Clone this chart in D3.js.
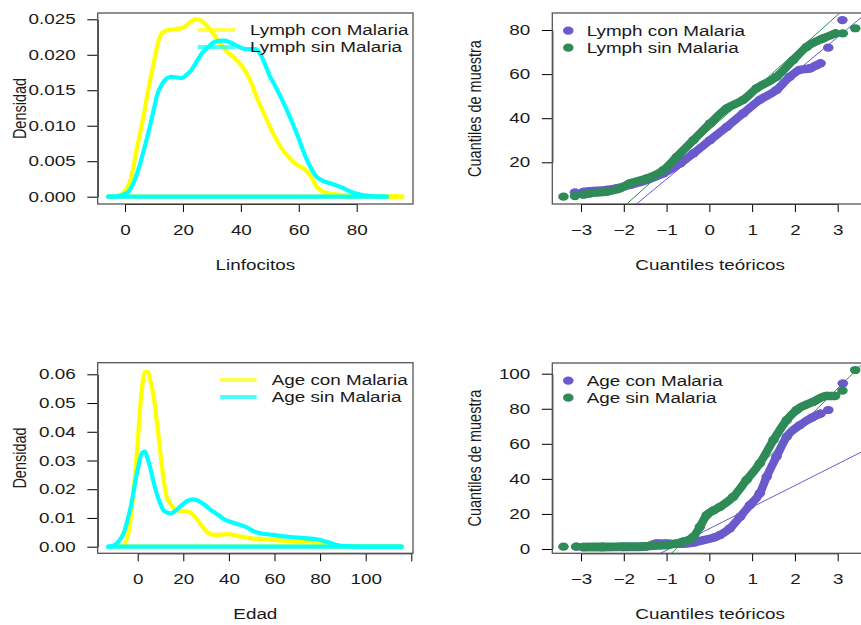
<!DOCTYPE html>
<html>
<head>
<meta charset="utf-8">
<script src="https://cdn.jsdelivr.net/npm/d3@7"></script>
<style>
  body { margin: 0; background: #fff; }
  text { font-family: "Liberation Sans", Arial, Helvetica, sans-serif; fill: #1a1a1a; }
</style>
</head>
<body>
<svg id="chart" width="861" height="625"></svg>
<script>
// ---------- Density estimates: Linfocitos ----------
const lymphConX = [-5.8, -2, 0, 2, 4, 6, 8, 10, 12, 14, 17, 20, 22, 24.2, 26, 28, 30.5, 33, 35, 38, 40, 43, 46, 48, 50, 53, 56, 59, 61.6, 64, 66.2, 68, 71, 78, 86, 95.7];
const lymphConY = [0, 0.0002, 0.0008, 0.0025, 0.0066, 0.0105, 0.015, 0.019, 0.0225, 0.0234, 0.0236, 0.0238, 0.0244, 0.025, 0.0249, 0.0242, 0.023, 0.0215, 0.0205, 0.0195, 0.0186, 0.0166, 0.0135, 0.0117, 0.0099, 0.0075, 0.0058, 0.0046, 0.004, 0.003, 0.0014, 0.0008, 0.0004, 0.0002, 0.0001, 0];
const lymphSinX = [-5.8, -2, 0, 1.2, 3, 4.6, 6, 8, 10, 11, 13, 14.5, 16, 18, 19.6, 21, 23, 25, 26.5, 29, 31, 33, 34.5, 36, 38, 40, 41.5, 44.9, 46.6, 48, 50, 52, 55.9, 57.5, 59.3, 62.8, 64, 66.2, 68, 70.8, 73, 75.4, 78, 80, 84.6, 90.4];
const lymphSinY = [0, 0.0001, 0.0004, 0.0007, 0.002, 0.0038, 0.0058, 0.0089, 0.0124, 0.0142, 0.016, 0.0167, 0.0169, 0.0168, 0.0167, 0.0171, 0.0179, 0.0192, 0.0202, 0.0212, 0.0218, 0.022, 0.022, 0.0218, 0.0214, 0.021, 0.0208, 0.0208, 0.0202, 0.019, 0.017, 0.0155, 0.0122, 0.0107, 0.0089, 0.0052, 0.0042, 0.0028, 0.0023, 0.0019, 0.0016, 0.0012, 0.0007, 0.0004, 0.0001, 0];

// ---------- Density estimates: Edad ----------
const ageConX = [-8.5, -6, -4.1, -2.5, -1.2, 0, 1, 2, 3.2, 4.6, 5.5, 6.8, 9, 11.2, 12.5, 14.2, 16, 17.8, 22.2, 25.1, 27, 29.5, 31.5, 33.9, 37, 39.7, 44.1, 50, 56.6, 63, 71.2, 80, 85.7, 92.5, 100, 115.8];
const ageConY = [0, 0.0008, 0.0047, 0.014, 0.0244, 0.036, 0.0476, 0.056, 0.0608, 0.0608, 0.058, 0.0534, 0.0395, 0.0244, 0.018, 0.0151, 0.0132, 0.0125, 0.0122, 0.0104, 0.0085, 0.0058, 0.0045, 0.0041, 0.0042, 0.0044, 0.0037, 0.0029, 0.0025, 0.0021, 0.0017, 0.0012, 0.0004, 0.0001, 0, 0];
const ageSinX = [-12.9, -10.5, -8.5, -6, -4.1, -2.5, -1.2, 0.3, 1.8, 3.2, 4.2, 5.4, 6.8, 8.3, 9.8, 11.2, 13, 14.6, 17, 19.3, 22, 24.4, 27, 29.5, 32, 35.4, 38, 41.2, 44, 47.1, 51.4, 55, 59.5, 64, 68.2, 73, 78.5, 82.9, 87.3, 93, 100, 115.8];
const ageSinY = [0, 0.0004, 0.0017, 0.005, 0.0104, 0.016, 0.022, 0.028, 0.0325, 0.0331, 0.031, 0.0278, 0.023, 0.0186, 0.0152, 0.0128, 0.0118, 0.0116, 0.0128, 0.0145, 0.016, 0.0165, 0.0158, 0.0145, 0.0128, 0.011, 0.0095, 0.0085, 0.0078, 0.007, 0.0052, 0.0045, 0.0041, 0.0036, 0.0033, 0.003, 0.0026, 0.0017, 0.0006, 0.0001, 0, 0];

// ---------- Normal Q-Q: Linfocitos (dense run + separate tail points) ----------
const qqLymphConQ = [-2.95, -2.79, -2.4, -2.17, -1.85, -1.46, -1.07, -0.68, -0.37, 0.02, 0.41, 0.79, 1.18, 1.57, 1.88, 2.11, 2.35, 2.5, 2.6];
const qqLymphConV = [6.6, 6.9, 7.5, 8.2, 9.8, 12, 15, 19.5, 24.1, 30.1, 36.1, 42.2, 48.3, 52.8, 58.8, 61.9, 62.6, 64, 64.9];
const qqLymphConTailQ = [-3.14, 2.78, 3.11];
const qqLymphConTailV = [6.4, 72, 84.5];
const qqLymphSinQ = [-2.95, -2.79, -2.4, -2.09, -1.85, -1.46, -1.07, -0.76, -0.37, 0.02, 0.41, 0.79, 1.11, 1.57, 1.96, 2.28, 2.66, 2.95];
const qqLymphSinV = [5.4, 5.9, 6.7, 8.2, 10.5, 12.7, 16.5, 22.5, 30.1, 37.7, 44.5, 48.3, 53.6, 58.8, 66.4, 72.4, 76.2, 78.5];
const qqLymphSinTailQ = [-3.41, -3.14, 3.12, 3.41];
const qqLymphSinTailV = [4.4, 4.7, 78.5, 80.8];

// ---------- Normal Q-Q: Edad ----------
const qqAgeConQ = [-2.95, -2.5, -2, -1.5, -1.23, -1.0, -0.8, -0.61, -0.4, -0.14, 0.1, 0.25, 0.48, 0.72, 0.95, 1.18, 1.34, 1.57, 1.81, 2.12, 2.4, 2.6];
const qqAgeConV = [1, 1, 1.1, 1.3, 3.2, 3.1, 2.9, 2.9, 3.5, 5.1, 6.5, 8, 11.8, 18.4, 25.1, 31.8, 41.2, 52.7, 64.1, 70.7, 75, 77.2];
const qqAgeConTailQ = [-3.11, 2.78, 3.12];
const qqAgeConTailV = [1.3, 79.3, 94.5];
const qqAgeSinQ = [-2.95, -2.5, -2, -1.5, -1.0, -0.8, -0.61, -0.45, -0.37, -0.22, -0.06, 0.1, 0.25, 0.56, 0.87, 1.18, 1.5, 1.81, 2.04, 2.43, 2.74, 2.94];
const qqAgeSinV = [1.2, 1.3, 1.4, 1.6, 2.2, 3, 4.2, 5.5, 7, 12.7, 19.4, 22, 24.1, 29.8, 39.4, 48.9, 62.2, 73.6, 79.3, 84, 87.3, 87.3];
const qqAgeSinTailQ = [-3.41, -3.11, 3.11, 3.41];
const qqAgeSinTailV = [1.3, 1.3, 90.3, 102.1];

// Reference lines through the quartiles: [intercept, slope]
const qqLineLymphCon = [28.5, 16.1];
const qqLineLymphSin = [34.7, 17.4];
const qqLineAgeCon = [11.6, 12.3];
const qqLineAgeSin = [19, 24.2];

// ---------- Tick values and labels ----------
const lymphTicks = [0, 20, 40, 60, 80];
const lymphTickLabels = ["0", "20", "40", "60", "80"];
const ageTicks = [0, 20, 40, 60, 80, 100, 120];
const ageTickLabels = ["0", "20", "40", "60", "80", "100", ""];
const densLymphTicks = [0, 0.005, 0.01, 0.015, 0.02, 0.025];
const densLymphTickLabels = ["0.000", "0.005", "0.010", "0.015", "0.020", "0.025"];
const densAgeTicks = [0, 0.01, 0.02, 0.03, 0.04, 0.05, 0.06];
const densAgeTickLabels = ["0.00", "0.01", "0.02", "0.03", "0.04", "0.05", "0.06"];
const normTicks = [-3, -2, -1, 0, 1, 2, 3];
const normTickLabels = ["\u22123", "\u22122", "\u22121", "0", "1", "2", "3"];
const qqLymphTicks = [20, 40, 60, 80];
const qqLymphTickLabels = ["20", "40", "60", "80"];
const qqAgeTicks = [0, 20, 40, 60, 80, 100];
const qqAgeTickLabels = ["0", "20", "40", "60", "80", "100"];

// ---------- Text ----------
const lymphLegend = ["Lymph con Malaria", "Lymph sin Malaria"];
const ageLegend = ["Age con Malaria", "Age sin Malaria"];

// ---------- Styling ----------
const YELLOW = "#ffff00", CYAN = "#00ffff";
const PURPLE = "#6a5acd", GREEN = "#2e8b57";
const SX = 1.3;          // horizontal text stretch
const FS = 14.5;         // font size
const PT_RX = 5.3, PT_RY = 4.1;  // Q-Q point size

const svg = d3.select("#chart");
let clipCount = 0;

function stretchedText(g, x, y, s, anchor, vertical) {
  return g.append("text")
    .attr("transform", vertical
      ? `translate(${x},${y}) rotate(-90) scale(1,${SX})`
      : `translate(${x},${y}) scale(${SX},1)`)
    .attr("text-anchor", anchor)
    .attr("font-size", FS)
    .text(s);
}

function frame(box, x, y, xTicks, xLabels, yTicks, yLabels, xTitle, yTitle) {
  const g = svg.append("g");
  // axes
  const ax = g.append("g").attr("transform", `translate(0,${box.y1})`)
    .call(d3.axisBottom(x).tickValues(xTicks).tickFormat((d, i) => xLabels[i])
      .tickSizeInner(8).tickSizeOuter(0).tickPadding(12.5));
  const ay = g.append("g").attr("transform", `translate(${box.x0},0)`)
    .call(d3.axisLeft(y).tickValues(yTicks).tickFormat((d, i) => yLabels[i])
      .tickSizeInner(10.4).tickSizeOuter(0).tickPadding(11.6));
  [ax, ay].forEach(a => {
    a.attr("font-size", FS).attr("font-family", null);
    a.selectAll("path, line").attr("stroke", "#000").attr("stroke-width", 1);
  });
  ax.selectAll("text").attr("transform", `scale(${SX},1)`);
  ay.selectAll("text").attr("x", -22 / SX).attr("transform", `scale(${SX},1)`);
  // box
  g.append("rect").attr("x", box.x0).attr("y", box.y0)
    .attr("width", box.x1 - box.x0).attr("height", box.y1 - box.y0)
    .attr("fill", "none").attr("stroke", "#555").attr("stroke-width", 1.3);
  // titles
  stretchedText(g, (box.x0 + box.x1) / 2, box.y1 + 65.5, xTitle, "middle", false);
  stretchedText(g, box.x0 - 78, (box.y0 + box.y1) / 2, yTitle, "middle", true).attr("dy", "0.36em");
  // clip
  const id = "clip" + (clipCount++);
  svg.append("clipPath").attr("id", id).append("rect")
    .attr("x", box.x0).attr("y", box.y0)
    .attr("width", box.x1 - box.x0).attr("height", box.y1 - box.y0);
  return svg.append("g").attr("clip-path", `url(#${id})`);
}

function densityPanel(box, x, y, series, xTicks, xLabels, yTicks, yLabels, xTitle, legend, legendPos) {
  const plot = frame(box, x, y, xTicks, xLabels, yTicks, yLabels, xTitle, "Densidad");
  const line = d3.line().curve(d3.curveMonotoneX);
  series.forEach(s => {
    const pts = s.xs.map((v, i) => [x(v), y(s.ys[i])]);
    plot.append("path").attr("d", line(pts))
      .attr("fill", "none").attr("stroke", s.color).attr("stroke-width", 4.2)
      .attr("stroke-linejoin", "round").attr("stroke-linecap", "round");
    plot.append("line")
      .attr("x1", x(s.xs[0])).attr("x2", x(s.xs[s.xs.length - 1]))
      .attr("y1", y(0)).attr("y2", y(0))
      .attr("stroke", s.color).attr("stroke-width", 4.2).attr("stroke-linecap", "round");
  });
  const lg = svg.append("g");
  series.forEach((s, i) => {
    const ly = legendPos.y + i * 17;
    lg.append("line").attr("x1", legendPos.x0).attr("x2", legendPos.x1)
      .attr("y1", ly).attr("y2", ly)
      .attr("stroke", s.color).attr("stroke-width", 4).attr("opacity", 0.7);
    stretchedText(lg, legendPos.tx, ly, legend[i], "start", false).attr("dy", "0.36em");
  });
}

function qqPanel(box, x, y, series, yTicks, yLabels, legend, legendPos) {
  const plot = frame(box, x, y, normTicks, normTickLabels, yTicks, yLabels, "Cuantiles te\u00f3ricos", "Cuantiles de muestra");
  const line = d3.line().curve(d3.curveMonotoneX);
  const [qa, qb] = [-5, 5];
  series.forEach(s => {
    const pts = s.q.map((q, i) => [x(q), y(s.v[i])]);
    plot.append("path").attr("d", line(pts))
      .attr("fill", "none").attr("stroke", s.color).attr("stroke-width", 8.4)
      .attr("stroke-linejoin", "round").attr("stroke-linecap", "round");
    const all = s.q.map((q, i) => [q, s.v[i]]).concat(s.tq.map((q, i) => [q, s.tv[i]]));
    plot.selectAll(null).data(all).enter().append("ellipse")
      .attr("cx", d => x(d[0])).attr("cy", d => y(d[1]))
      .attr("rx", PT_RX).attr("ry", PT_RY).attr("fill", s.color);
    plot.append("line")
      .attr("x1", x(qa)).attr("y1", y(s.ref[0] + s.ref[1] * qa))
      .attr("x2", x(qb)).attr("y2", y(s.ref[0] + s.ref[1] * qb))
      .attr("stroke", s.color).attr("stroke-width", 1);
  });
  const lg = svg.append("g");
  series.forEach((s, i) => {
    const ly = legendPos.y + i * 17;
    lg.append("ellipse").attr("cx", legendPos.px).attr("cy", ly)
      .attr("rx", PT_RX).attr("ry", PT_RY).attr("fill", s.color);
    stretchedText(lg, legendPos.tx, ly, legend[i], "start", false).attr("dy", "0.36em");
  });
}

// ---------- Panel 1: Linfocitos density ----------
{
  const box = { x0: 97.7, x1: 413, y0: 13, y1: 204 };
  const x = d3.scaleLinear().domain([0, 80]).range([125, 356.7]);
  const y = d3.scaleLinear().domain([0, 0.025]).range([196.7, 19.3]);
  densityPanel(box, x, y,
    [{ xs: lymphConX, ys: lymphConY, color: YELLOW }, { xs: lymphSinX, ys: lymphSinY, color: CYAN }],
    lymphTicks, lymphTickLabels, densLymphTicks, densLymphTickLabels, "Linfocitos",
    lymphLegend, { x0: 197.7, x1: 235, tx: 250, y: 30 });
}

// ---------- Panel 2: Linfocitos Q-Q ----------
{
  const box = { x0: 552.3, x1: 868, y0: 13, y1: 204 };
  const x = d3.scaleLinear().domain([-3, 3]).range([581, 837.7]);
  const y = d3.scaleLinear().domain([20, 80]).range([162.3, 30]);
  qqPanel(box, x, y,
    [{ q: qqLymphConQ, v: qqLymphConV, tq: qqLymphConTailQ, tv: qqLymphConTailV, ref: qqLineLymphCon, color: PURPLE },
     { q: qqLymphSinQ, v: qqLymphSinV, tq: qqLymphSinTailQ, tv: qqLymphSinTailV, ref: qqLineLymphSin, color: GREEN }],
    qqLymphTicks, qqLymphTickLabels, lymphLegend, { px: 568.3, tx: 586.7, y: 30.7 });
}

// ---------- Panel 3: Edad density ----------
{
  const box = { x0: 97.7, x1: 413, y0: 362.7, y1: 553.3 };
  const x = d3.scaleLinear().domain([0, 120]).range([137.7, 411.3]);
  const y = d3.scaleLinear().domain([0, 0.06]).range([546.7, 374.3]);
  densityPanel(box, x, y,
    [{ xs: ageConX, ys: ageConY, color: YELLOW }, { xs: ageSinX, ys: ageSinY, color: CYAN }],
    ageTicks, ageTickLabels, densAgeTicks, densAgeTickLabels, "Edad",
    ageLegend, { x0: 220, x1: 256.7, tx: 271.7, y: 380 });
}

// ---------- Panel 4: Edad Q-Q ----------
{
  const box = { x0: 552.3, x1: 868, y0: 363, y1: 553.3 };
  const x = d3.scaleLinear().domain([-3, 3]).range([581, 837.7]);
  const y = d3.scaleLinear().domain([0, 100]).range([549, 373.7]);
  qqPanel(box, x, y,
    [{ q: qqAgeConQ, v: qqAgeConV, tq: qqAgeConTailQ, tv: qqAgeConTailV, ref: qqLineAgeCon, color: PURPLE },
     { q: qqAgeSinQ, v: qqAgeSinV, tq: qqAgeSinTailQ, tv: qqAgeSinTailV, ref: qqLineAgeSin, color: GREEN }],
    qqAgeTicks, qqAgeTickLabels, ageLegend, { px: 568.3, tx: 586.7, y: 380.7 });
}
</script>
</body>
</html>
